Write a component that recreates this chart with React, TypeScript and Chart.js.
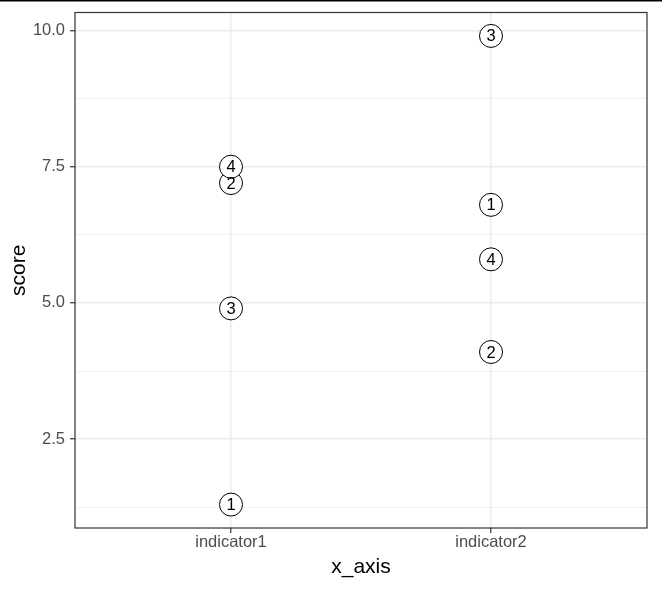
import React, { useEffect, useRef } from "react";
import { Chart, registerables } from "chart.js";

Chart.register(...registerables);

const categories = ["indicator1", "indicator2"];
const pointIds = ["1", "2", "3", "4"];
const indicator1Scores = [1.3, 7.2, 4.9, 7.5];
const indicator2Scores = [6.8, 4.1, 9.9, 5.8];
const yMajorTicks = [2.5, 5.0, 7.5, 10.0];
const yMinorTicks = [1.25, 3.75, 6.25, 8.75];

const FONT = "'Liberation Sans', Arial, Helvetica, sans-serif";

export default function App() {
  const ref = useRef<HTMLCanvasElement | null>(null);

  useEffect(() => {
    if (!ref.current) return;
    const points: { x: number; y: number; label: string }[] = [];
    const series = [indicator1Scores, indicator2Scores];
    series.forEach((vals, ci) => {
      vals.forEach((v, i) => points.push({ x: ci + 1, y: v, label: pointIds[i] }));
    });
    const allY = [...yMinorTicks, ...yMajorTicks].sort((a, b) => a - b);
    const isMajor = (v: number) => yMajorTicks.some((m) => Math.abs(m - v) < 1e-6);

    const labelPlugin = {
      id: "pointLabels",
      afterDatasetsDraw(chart: any) {
        const ctx = chart.ctx;
        const meta = chart.getDatasetMeta(0);
        ctx.save();
        ctx.fillStyle = "#000000";
        ctx.font = `16.5px ${FONT}`;
        ctx.textAlign = "center";
        ctx.textBaseline = "middle";
        meta.data.forEach((el: any, i: number) => {
          ctx.fillText(points[i].label, el.x, el.y + 1);
        });
        ctx.restore();
      },
      afterDraw(chart: any) {
        const ctx = chart.ctx;
        const a = chart.chartArea;
        ctx.save();
        ctx.strokeStyle = "#333333";
        ctx.lineWidth = 1.2;
        ctx.strokeRect(a.left, a.top, a.right - a.left, a.bottom - a.top);
        ctx.fillStyle = "#000000";
        ctx.fillRect(0, 0, chart.width, 1.5);
        ctx.restore();
      },
    };

    const chart = new Chart(ref.current, {
      type: "scatter",
      data: {
        datasets: [
          {
            data: points.map((p) => ({ x: p.x, y: p.y })),
            backgroundColor: "#ffffff",
            borderColor: "#000000",
            borderWidth: 1,
            pointRadius: 11.5,
            pointHoverRadius: 11.5,
          },
        ],
      },
      options: {
        animation: false,
        responsive: false,
        events: [],
        layout: { padding: { top: 11, right: 15, left: 0, bottom: 0 } },
        plugins: { legend: { display: false }, tooltip: { enabled: false } },
        scales: {
          x: {
            type: "linear",
            min: 0.4,
            max: 2.6,
            afterBuildTicks: (scale: any) => {
              scale.ticks = categories.map((_, i) => ({ value: i + 1 }));
            },
            afterFit: (scale: any) => {
              scale.height = 61;
              scale.paddingLeft = 0;
              scale.paddingRight = 0;
            },
            ticks: {
              autoSkip: false,
              maxRotation: 0,
              padding: 0,
              color: "#4D4D4D",
              font: { family: FONT, size: 16.5 },
              callback: (v: any) => categories[Math.round(Number(v)) - 1] ?? "",
            },
            grid: {
              color: "#EBEBEB",
              lineWidth: 1.5,
              drawTicks: true,
              tickLength: 5,
              tickColor: "#333333",
              tickWidth: 1.2,
            },
            border: { display: false },
            title: {
              display: true,
              text: "x_axis",
              color: "#000000",
              font: { family: FONT, size: 21 },
              padding: { top: 0, bottom: 9 },
            },
          },
          y: {
            type: "linear",
            min: 0.87,
            max: 10.33,
            afterBuildTicks: (scale: any) => {
              scale.ticks = allY.map((v) => ({ value: v }));
            },
            afterFit: (scale: any) => {
              scale.width = 75;
              scale.paddingTop = 0;
              scale.paddingBottom = 0;
            },
            ticks: {
              autoSkip: false,
              padding: 5,
              color: "#4D4D4D",
              font: { family: FONT, size: 16.5 },
              callback: (v: any) => (isMajor(Number(v)) ? Number(v).toFixed(1) : ""),
            },
            grid: {
              color: "#EBEBEB",
              lineWidth: (c: any) => (c.tick && isMajor(c.tick.value) ? 1.5 : 0.75),
              drawTicks: true,
              tickLength: 5,
              tickColor: (c: any) => (c.tick && isMajor(c.tick.value) ? "#333333" : "rgba(0,0,0,0)"),
              tickWidth: 1.2,
            },
            border: { display: false },
            title: {
              display: true,
              text: "score",
              color: "#000000",
              font: { family: FONT, size: 21 },
              padding: { top: 7, bottom: 0 },
            },
          },
        },
      },
      plugins: [labelPlugin],
    } as any);
    return () => chart.destroy();
  }, []);

  return (
    <div style={{ position: "absolute", left: 0, top: 0, width: 662, height: 589, background: "#ffffff" }}>
      <canvas ref={ref} width={662} height={589} style={{ display: "block" }} />
    </div>
  );
}
